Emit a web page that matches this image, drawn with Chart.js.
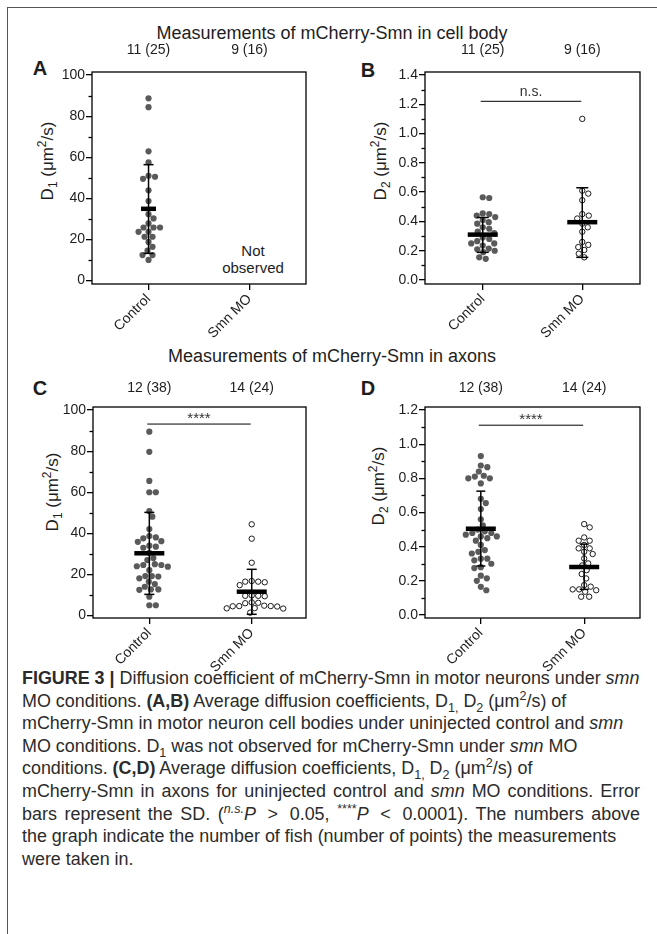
<!DOCTYPE html>
<html><head><meta charset="utf-8">
<script src="https://cdn.jsdelivr.net/npm/chart.js@4.4.1/dist/chart.umd.min.js"></script>
<style>
html,body{margin:0;padding:0;background:#fff;}
body{width:657px;height:934px;position:relative;overflow:hidden;font-family:"Liberation Sans",Arial,sans-serif;color:#1e1e1e;}
canvas{position:absolute;}
.frame{position:absolute;left:7px;top:7px;width:700px;height:1000px;border-left:1.5px solid #555;border-top:1.5px solid #555;}
.c{position:absolute;white-space:nowrap;transform:translate(-50%,-50%);}
.title{font-size:18px;font-family:"Liberation Sans Narrow","Liberation Sans",sans-serif;}
.lbl{font-size:20px;font-weight:bold;}
.ytitle{font-size:17px;transform:translate(-50%,-50%) rotate(-90deg);}
sub,sup{font-size:70%;line-height:0;}
#caption{position:absolute;left:22px;top:667px;font-family:"Liberation Sans Narrow","Liberation Sans",sans-serif;color:#2b2b2b;}
#caption div{white-space:nowrap;height:22.6px;line-height:22.6px;}
#caption span.l{display:inline-block;}
</style></head><body>
<div class="frame"></div>
<div class="c title" style="left:332px;top:33px;">Measurements of mCherry-Smn in cell body</div>
<div class="c title" style="left:332px;top:356px;">Measurements of mCherry-Smn in axons</div>
<div class="c lbl" style="left:40px;top:68px;">A</div>
<div class="c lbl" style="left:368px;top:70px;">B</div>
<div class="c lbl" style="left:40px;top:388px;">C</div>
<div class="c lbl" style="left:368px;top:388px;">D</div>
<div class="c ytitle" style="left:48px;top:161px;">D<sub>1</sub> (μm<sup>2</sup>/s)</div>
<div class="c ytitle" style="left:381px;top:161px;">D<sub>2</sub> (μm<sup>2</sup>/s)</div>
<div class="c ytitle" style="left:53px;top:492px;">D<sub>1</sub> (μm<sup>2</sup>/s)</div>
<div class="c ytitle" style="left:379px;top:486px;">D<sub>2</sub> (μm<sup>2</sup>/s)</div>
<div class="c" style="left:253px;top:250px;font-size:15px;">Not</div>
<div class="c" style="left:253px;top:267px;font-size:15px;">observed</div>
<div id="caption">
<div><span class="l" id="cap1"><b>FIGURE 3 |</b> Diffusion coefficient of mCherry-Smn in motor neurons under <i>smn</i></span></div>
<div><span class="l">MO conditions. <b>(A,B)</b> Average diffusion coefficients, D<sub>1,</sub> D<sub>2</sub> (μm<sup>2</sup>/s) of</span></div>
<div><span class="l">mCherry-Smn in motor neuron cell bodies under uninjected control and <i>smn</i></span></div>
<div><span class="l">MO conditions. D<sub>1</sub> was not observed for mCherry-Smn under <i>smn</i> MO</span></div>
<div><span class="l">conditions. <b>(C,D)</b> Average diffusion coefficients, D<sub>1,</sub> D<sub>2</sub> (μm<sup>2</sup>/s) of</span></div>
<div><span class="l" data-w="618">mCherry-Smn in axons for uninjected control and <i>smn</i> MO conditions. Error</span></div>
<div><span class="l" data-w="618">bars represent the SD. (<sup><i>n.s.</i></sup><i>P</i> <span style="margin:0 4px">&gt;</span> 0.05, <sup>****</sup><i>P</i> <span style="margin:0 4px">&lt;</span> 0.0001). The numbers above</span></div>
<div><span class="l">the graph indicate the number of fish (number of points) the measurements</span></div>
<div><span class="l">were taken in.</span></div>
</div>
<script>
// ---------- data ----------
const categories = ['Control', 'Smn MO'];
const countsCellBody = ['11 (25)', '9 (16)'];
const countsAxons = ['12 (38)', '14 (24)'];
const ticksD1 = [0, 20, 40, 60, 80, 100];
const ticksD2cell = [0, 0.2, 0.4, 0.6, 0.8, 1.0, 1.2, 1.4];
const ticksD2axon = [0, 0.2, 0.4, 0.6, 0.8, 1.0, 1.2];

const aControl = [88.7, 84.4, 62.9, 57.5, 51.0, 50.5, 49.5, 43.9, 38.7, 32.3, 30.2, 27.8, 25.8, 25.8, 25.8, 23.7, 23.7, 21.3, 21.3, 18.8, 16.4, 14.5, 12.4, 12.4, 10.0];
const aSmn = [];
const bControl = [0.565, 0.56, 0.455, 0.45, 0.44, 0.43, 0.41, 0.395, 0.385, 0.36, 0.35, 0.33, 0.32, 0.29, 0.28, 0.265, 0.25, 0.25, 0.235, 0.215, 0.21, 0.2, 0.19, 0.155, 0.145];
const bSmn = [1.1, 0.61, 0.59, 0.545, 0.45, 0.44, 0.42, 0.385, 0.36, 0.33, 0.26, 0.24, 0.225, 0.205, 0.18, 0.155];
const cControl = [89.5, 79.7, 65.5, 60, 60, 50.8, 48.1, 42.1, 38.7, 38, 37.6, 36.2, 35.9, 34, 33.5, 33, 30.5, 28, 27, 25, 24.6, 24.6, 24, 23.8, 22.1, 19.2, 19.2, 19, 18.1, 16.5, 15.3, 14, 12.7, 12.7, 12.5, 9.2, 5, 5];
const cSmn = [44.4, 37.4, 25.7, 16.8, 16.5, 16.5, 16.2, 14.8, 9.8, 9.6, 9.6, 9.4, 6.4, 6.2, 6.0, 4.8, 4.6, 4.6, 4.5, 4.4, 3.6, 3.5, 3.4, 1.4];
const dControl = [0.93, 0.875, 0.865, 0.84, 0.815, 0.81, 0.8, 0.8, 0.77, 0.68, 0.655, 0.62, 0.56, 0.525, 0.5, 0.49, 0.48, 0.48, 0.47, 0.46, 0.46, 0.45, 0.435, 0.41, 0.38, 0.37, 0.36, 0.33, 0.33, 0.32, 0.3, 0.28, 0.275, 0.23, 0.215, 0.2, 0.165, 0.145];
const dSmn = [0.532, 0.513, 0.454, 0.435, 0.435, 0.41, 0.39, 0.39, 0.37, 0.357, 0.331, 0.302, 0.29, 0.263, 0.24, 0.214, 0.175, 0.166, 0.15, 0.15, 0.145, 0.136, 0.107, 0.107];

// mean and SD limits as shown by the bars
const meanA = [34.9, null], sdLowA = [13.2, null], sdHighA = [56.4, null];
const meanB = [0.31, 0.395], sdLowB = [0.189, 0.155], sdHighB = [0.427, 0.63];
const meanC = [30.3, 11.6], sdLowC = [10.3, 0.6], sdHighC = [50.2, 22.5];
const meanD = [0.505, 0.281], sdLowD = [0.287, 0.15], sdHighD = [0.725, 0.415];

const sigLabels = [null, 'n.s.', '****', '****'];
const sigLevels = [null, 1.22, 93.2, 1.111];

// ---------- drawing ----------
const FONT = "'Liberation Sans', Arial, sans-serif";
Chart.defaults.font.family = FONT;
Chart.defaults.color = '#1e1e1e';

function swarm(ys, minD) {
  const idx = ys.map((y, i) => i).sort((a, b) => ys[a] - ys[b]);
  const placed = [], offs = new Array(ys.length).fill(0);
  for (const i of idx) {
    let best = 0;
    for (let k = 0; k < 400; k++) {
      const o = (k % 2 === 1 ? 1 : -1) * Math.ceil(k / 2) * 0.5;
      let ok = true;
      for (const p of placed) {
        const dx = o - p.x, dy = ys[i] - p.y;
        if (dx * dx + dy * dy < minD * minD) { ok = false; break; }
      }
      if (ok) { best = o; break; }
    }
    offs[i] = best; placed.push({ x: best, y: ys[i] });
  }
  return offs;
}

function line(ctx, x1, y1, x2, y2) { ctx.beginPath(); ctx.moveTo(x1, y1); ctx.lineTo(x2, y2); ctx.stroke(); }

function panelPlugin(p) {
  return {
    id: 'panel' + p.key,
    afterDatasetsDraw(chart) {
      const { ctx, scales: { x, y } } = chart;
      ctx.save();
      ctx.strokeStyle = '#000';
      p.means.forEach((m, i) => {
        if (m == null) return;
        const cx = x.getPixelForValue(i + 1);
        const yl = y.getPixelForValue(p.sdLow[i]), yh = y.getPixelForValue(p.sdHigh[i]), ym = y.getPixelForValue(m);
        ctx.lineWidth = 1.5;
        line(ctx, cx, yl, cx, yh);
        line(ctx, cx - p.cap, yh, cx + p.cap, yh);
        line(ctx, cx - p.cap, yl, cx + p.cap, yl);
        ctx.lineWidth = 4.5;
        line(ctx, cx - p.meanHalf, ym, cx + p.meanHalf, ym);
      });
      if (p.sigLabel) {
        const ys = y.getPixelForValue(p.sigLevel);
        const x1 = x.getPixelForValue(1) - 2, x2 = x.getPixelForValue(2) - 1;
        ctx.lineWidth = 1;
        line(ctx, x1, ys, x2, ys);
        ctx.fillStyle = '#333';
        ctx.textAlign = 'center';
        if (p.sigLabel === 'n.s.') {
          ctx.font = '14px ' + FONT; ctx.textBaseline = 'bottom';
          ctx.fillText(p.sigLabel, (x1 + x2) / 2, ys - 2);
        } else {
          ctx.font = '15px ' + FONT; ctx.textBaseline = 'middle';
          ctx.fillText(p.sigLabel, (x1 + x2) / 2, ys - 5);
        }
      }
      ctx.restore();
    },
    afterDraw(chart) {
      const { ctx, chartArea: a, scales: { y } } = chart;
      ctx.save();
      ctx.strokeStyle = '#000'; ctx.lineWidth = 1.3;
      ctx.strokeRect(a.left, a.top, a.right - a.left, a.bottom - a.top);
      for (let i = 0; i < p.yticks.length - 1; i++) {
        const v = (p.yticks[i] + p.yticks[i + 1]) / 2;
        const py = Math.round(y.getPixelForValue(v)) + 0.5;
        line(ctx, a.left - 3.5, py, a.left, py);
      }
      ctx.restore();
    }
  };
}

function makePanel(p) {
  const cv = document.createElement('canvas');
  cv.width = p.cw; cv.height = p.ch;
  cv.style.left = p.cl + 'px'; cv.style.top = p.ct + 'px';
  cv.style.width = p.cw + 'px'; cv.style.height = p.ch + 'px';
  document.body.appendChild(cv);
  const datasets = p.series.map((vals, i) => ({
    data: vals.map(v => ({ x: i + 1, y: v })),
    pointRadius: i === 0 ? 3.1 : 2.7,
    pointBackgroundColor: i === 0 ? '#5a5a5a' : '#ffffff',
    pointBorderColor: i === 0 ? '#5a5a5a' : '#1a1a1a',
    pointBorderWidth: i === 0 ? 0 : 1,
    pointHoverRadius: 0,
    showLine: false
  }));
  const catTicks = s => { s.ticks = categories.map((c, i) => ({ value: i + 1 })); };
  const chart = new Chart(cv, {
    type: 'scatter',
    data: { datasets },
    options: {
      responsive: false, animation: false, devicePixelRatio: 1,
      events: [],
      layout: { padding: { left: 0, top: 0, bottom: 0, right: p.cl + p.cw - p.R } },
      plugins: { legend: { display: false }, tooltip: { enabled: false } },
      scales: {
        x: {
          type: 'linear', position: 'bottom', min: p.xmin, max: p.xmax,
          afterBuildTicks: catTicks,
          afterFit: s => { s.height = p.ct + p.ch - p.B; },
          ticks: { callback: v => categories[Math.round(v) - 1], minRotation: 45, maxRotation: 45, autoSkip: false, font: { size: 14 }, color: '#1e1e1e', padding: 1 },
          grid: { drawOnChartArea: false, drawTicks: true, tickLength: 6, color: '#000', lineWidth: 1.3 },
          border: { display: false }
        },
        xTop: {
          type: 'linear', position: 'top', min: p.xmin, max: p.xmax,
          afterBuildTicks: catTicks,
          afterFit: s => { s.height = p.T - p.ct; },
          ticks: { callback: v => p.counts[Math.round(v) - 1], minRotation: 0, maxRotation: 0, autoSkip: false, font: { size: 14 }, color: '#1e1e1e', padding: p.countPad },
          grid: { display: false, drawTicks: false },
          border: { display: false }
        },
        y: {
          type: 'linear', position: 'left', min: p.ymin, max: p.ymax,
          afterBuildTicks: s => { s.ticks = p.yticks.map(v => ({ value: v })); },
          afterFit: s => { s.width = p.L - p.cl; },
          ticks: { callback: v => p.fmt(v), font: { size: 14 }, color: '#1e1e1e', padding: 1 },
          grid: { drawOnChartArea: false, drawTicks: true, tickLength: 6, color: '#000', lineWidth: 1.3 },
          border: { display: false }
        }
      }
    },
    plugins: [panelPlugin(p)]
  });
  const xs = chart.scales.x, ysc = chart.scales.y;
  chart.data.datasets.forEach((ds, i) => {
    const yp = ds.data.map(d => ysc.getPixelForValue(d.y));
    const offs = swarm(yp, 6.3);
    const cx = xs.getPixelForValue(i + 1);
    ds.data.forEach((d, j) => { d.x = xs.getValueForPixel(cx + offs[j]); });
  });
  chart.update('none');
  return chart;
}

const f0 = v => String(Math.round(v));
const f1 = v => v.toFixed(1);

makePanel({ key: 'A', cl: 10, ct: 30, cw: 320, ch: 330, L: 92, T: 72, R: 306, B: 284,
  xmin: 0.44, xmax: 2.56, ymin: -1.7, ymax: 101.5, yticks: ticksD1, fmt: f0,
  series: [aControl, aSmn], counts: countsCellBody, countPad: 13,
  means: meanA, sdLow: sdLowA, sdHigh: sdHighA, cap: 5, meanHalf: 7.5,
  sigLabel: sigLabels[0], sigLevel: sigLevels[0] });
makePanel({ key: 'B', cl: 340, ct: 30, cw: 317, ch: 330, L: 425, T: 72, R: 640, B: 284,
  xmin: 0.42, xmax: 2.58, ymin: -0.027, ymax: 1.42, yticks: ticksD2cell, fmt: f1,
  series: [bControl, bSmn], counts: countsCellBody, countPad: 13,
  means: meanB, sdLow: sdLowB, sdHigh: sdHighB, cap: 6, meanHalf: 15,
  sigLabel: sigLabels[1], sigLevel: sigLevels[1] });
makePanel({ key: 'C', cl: 10, ct: 360, cw: 320, ch: 320, L: 93, T: 407, R: 306, B: 618,
  xmin: 0.45, xmax: 2.53, ymin: -1.2, ymax: 101.5, yticks: ticksD1, fmt: f0,
  series: [cControl, cSmn], counts: countsAxons, countPad: 10,
  means: meanC, sdLow: sdLowC, sdHigh: sdHighC, cap: 5, meanHalf: 15,
  sigLabel: sigLabels[2], sigLevel: sigLevels[2] });
makePanel({ key: 'D', cl: 340, ct: 360, cw: 317, ch: 320, L: 425, T: 407, R: 640, B: 618,
  xmin: 0.46, xmax: 2.54, ymin: -0.0175, ymax: 1.2175, yticks: ticksD2axon, fmt: f1,
  series: [dControl, dSmn], counts: countsAxons, countPad: 10,
  means: meanD, sdLow: sdLowD, sdHigh: sdHighD, cap: 4.5, meanHalf: 15,
  sigLabel: sigLabels[3], sigLevel: sigLevels[3] });

// fit caption font so the first line spans the text column, then stretch the two full lines
(function () {
  const cap = document.getElementById('caption');
  const l1 = document.getElementById('cap1');
  let fs = 18;
  cap.style.fontSize = fs + 'px';
  const w = l1.getBoundingClientRect().width;
  fs = fs * 618 / w;
  cap.style.fontSize = fs.toFixed(2) + 'px';
  document.querySelectorAll('#caption span.l[data-w]').forEach(s => {
    const target = parseFloat(s.dataset.w);
    const nat = s.getBoundingClientRect().width;
    const n = (s.textContent.match(/ /g) || []).length;
    if (n > 0 && target > nat + 3) s.style.wordSpacing = ((target - nat) / n).toFixed(2) + 'px';
  });
})();
</script>
</body></html>
